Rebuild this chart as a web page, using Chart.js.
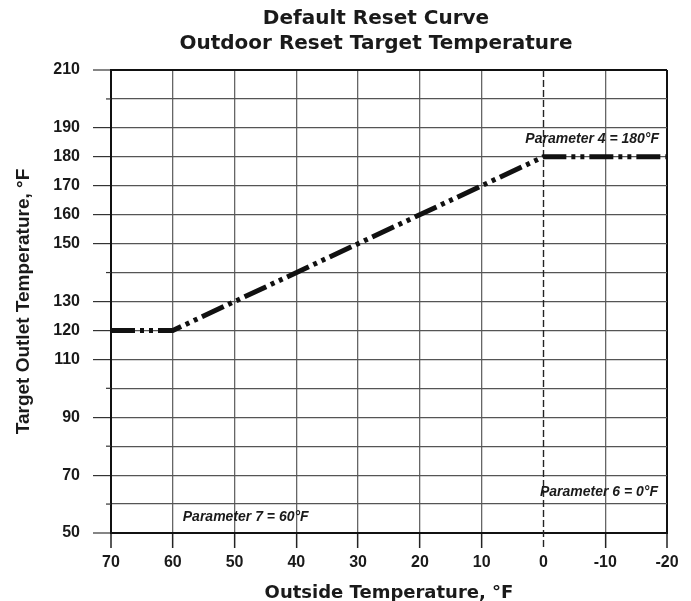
<!DOCTYPE html>
<html><head><meta charset="utf-8">
<script src="https://cdn.jsdelivr.net/npm/chart.js@4"></script>
<style>html,body{margin:0;padding:0;background:#fff}#wrap{width:691px;height:601px}</style>
</head><body><div id="wrap"><canvas id="c" width="691" height="601"></canvas></div>
<script>
// ---- data ----
const outsideTemps = [70, 60, 0, -20];
const targetTemps = [120, 120, 180, 180];
const xTickValues = [70, 60, 50, 40, 30, 20, 10, 0, -10, -20];
const yLabeledTicks = [50, 70, 90, 110, 120, 130, 150, 160, 170, 180, 190, 210];
const titleLines = ['Default Reset Curve', 'Outdoor Reset Target Temperature'];
const xTitle = 'Outside Temperature, °F';
const yTitle = 'Target Outlet Temperature, °F';
const noteTexts = ['Parameter 4 = 180°F', 'Parameter 6 = 0°F', 'Parameter 7 = 60°F'];
const noteX = [-20, -20, 60];
const noteY = [180, 60, 50];
const resetX = 0;

const FAM = '"Liberation Sans", Arial, Helvetica, sans-serif';
const WIDE = '"DejaVu Sans", "Liberation Sans", sans-serif';

const overlay = {
  id: 'overlay',
  afterLayout(chart) {
    if (chart.titleBlock) { chart.titleBlock.left = 61; chart.titleBlock.right = 691; }
  },
  beforeDatasetsDraw(chart) {
    const {ctx, chartArea, scales} = chart;
    ctx.save();
    ctx.strokeStyle = '#333'; ctx.lineWidth = 1.2;
    scales.y.ticks.forEach(t => {
      if (!yLabeledTicks.includes(t.value)) {
        const py = scales.y.getPixelForValue(t.value);
        ctx.beginPath(); ctx.moveTo(chartArea.left - 5, py); ctx.lineTo(chartArea.left, py); ctx.stroke();
      }
    });
    const px = Math.round(scales.x.getPixelForValue(resetX)) + 0.5;
    ctx.strokeStyle = '#222'; ctx.lineWidth = 1.4; ctx.setLineDash([7, 3]);
    ctx.beginPath(); ctx.moveTo(px, chartArea.top); ctx.lineTo(px, chartArea.bottom + 15); ctx.stroke();
    ctx.restore();
  },
  afterDatasetsDraw(chart) {
    const {ctx, scales} = chart;
    ctx.save();
    ctx.fillStyle = '#1a1a1a';
    ctx.font = 'italic bold 14px ' + FAM;
    ctx.textBaseline = 'middle';
    const off = [[-8, -18, 'right'], [-9, -12, 'right'], [10, -16, 'left']];
    noteTexts.forEach((t, i) => {
      ctx.textAlign = off[i][2];
      ctx.fillText(t, scales.x.getPixelForValue(noteX[i]) + off[i][0], scales.y.getPixelForValue(noteY[i]) + off[i][1]);
    });
    ctx.restore();
  }
};

new Chart(document.getElementById('c'), {
  type: 'line',
  data: {
    datasets: [{
      data: outsideTemps.map((x, i) => ({x: x, y: targetTemps[i]})),
      borderColor: '#111', borderWidth: 5, borderDash: [24, 5, 4, 5, 4, 5],
      borderCapStyle: 'butt', pointRadius: 0, tension: 0, fill: false
    }]
  },
  plugins: [overlay],
  options: {
    responsive: false, animation: false, devicePixelRatio: 1,
    layout: {padding: {left: 0, right: 24, top: 0, bottom: 0}},
    plugins: {
      legend: {display: false}, tooltip: {enabled: false},
      title: {display: true, text: titleLines, color: '#1a1a1a',
        font: {family: WIDE, size: 20, weight: 'bold', lineHeight: 1.25},
        padding: {top: 6, bottom: 14}}
    },
    scales: {
      x: {
        type: 'linear', reverse: true, min: -20, max: 70,
        afterBuildTicks: s => { s.ticks = xTickValues.map(v => ({value: v})); },
        afterFit: s => { s.height = 68; },
        ticks: {autoSkip: false, maxRotation: 0, padding: 5, color: '#1a1a1a',
          font: {family: FAM, size: 16, weight: 'bold'}, callback: v => String(v)},
        grid: {
          color: c => c.tick.value === resetX ? 'rgba(0,0,0,0)' : ((c.tick.value === 70 || c.tick.value === -20) ? '#111' : '#666'),
          lineWidth: c => (c.tick.value === 70 || c.tick.value === -20) ? 2 : 1.3,
          tickColor: c => c.tick.value === resetX ? 'rgba(0,0,0,0)' : '#222',
          tickLength: 15, tickWidth: 1.5
        },
        border: {display: true, color: '#111', width: 2},
        title: {display: true, text: xTitle, color: '#1a1a1a',
          font: {family: WIDE, size: 18, weight: 'bold', lineHeight: 0.8}, padding: {top: 0, bottom: 0}}
      },
      y: {
        type: 'linear', min: 50, max: 210,
        afterFit: s => { s.width = 111; },
        ticks: {stepSize: 10, autoSkip: false, padding: 13, color: '#1a1a1a',
          font: {family: FAM, size: 16, weight: 'bold'},
          callback: v => yLabeledTicks.includes(v) ? String(v) : ''},
        grid: {
          color: c => (c.tick.value === 210 || c.tick.value === 50) ? '#111' : '#555',
          lineWidth: c => (c.tick.value === 210 || c.tick.value === 50) ? 2 : 1.2,
          tickColor: c => yLabeledTicks.includes(c.tick.value) ? '#333' : 'rgba(0,0,0,0)',
          tickLength: 18, tickWidth: 1.2
        },
        border: {display: true, color: '#111', width: 2},
        title: {display: true, text: yTitle, color: '#1a1a1a',
          font: {family: FAM, size: 19, weight: 'bold', lineHeight: 1.2}, padding: {top: 12, bottom: 0}}
      }
    }
  }
});
</script></body></html>
